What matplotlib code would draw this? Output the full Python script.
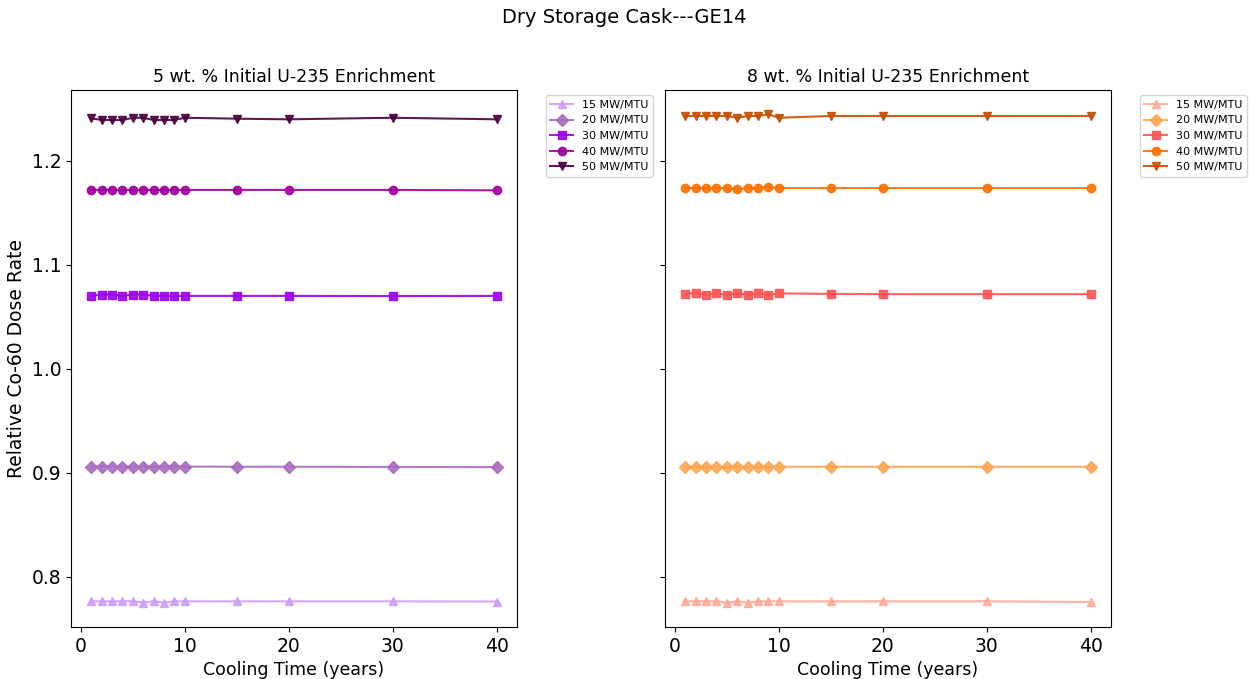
import matplotlib.pyplot as plt

# cooling time (years)
years = [1, 2, 3, 4, 5, 6, 7, 8, 9, 10, 15, 20, 30, 40]
burnups = ['15 MW/MTU', '20 MW/MTU', '30 MW/MTU', '40 MW/MTU', '50 MW/MTU']

# 5 wt.% enrichment
e5_15 = [0.7764, 0.7764, 0.7764, 0.7764, 0.7764, 0.7752, 0.7764, 0.7752, 0.7764, 0.7764, 0.7764, 0.7764, 0.7764, 0.7762]
e5_20 = [0.9060, 0.9060, 0.9060, 0.9060, 0.9060, 0.9060, 0.9060, 0.9060, 0.9060, 0.9060, 0.9058, 0.9058, 0.9056, 0.9055]
e5_30 = [1.0701, 1.0714, 1.0714, 1.0701, 1.0714, 1.0714, 1.0701, 1.0701, 1.0701, 1.0701, 1.0701, 1.0701, 1.0699, 1.0701]
e5_40 = [1.1720, 1.1720, 1.1720, 1.1720, 1.1720, 1.1720, 1.1720, 1.1720, 1.1720, 1.1720, 1.1720, 1.1720, 1.1720, 1.1716]
e5_50 = [1.2409, 1.2392, 1.2392, 1.2392, 1.2414, 1.2414, 1.2392, 1.2392, 1.2392, 1.2414, 1.2405, 1.2399, 1.2414, 1.2399]

# 8 wt.% enrichment
e8_15 = [0.7764, 0.7764, 0.7764, 0.7764, 0.7752, 0.7764, 0.7752, 0.7764, 0.7764, 0.7764, 0.7764, 0.7764, 0.7764, 0.7758]
e8_20 = [0.9058, 0.9058, 0.9055, 0.9058, 0.9055, 0.9058, 0.9055, 0.9058, 0.9058, 0.9058, 0.9058, 0.9058, 0.9058, 0.9058]
e8_30 = [1.0718, 1.0731, 1.0712, 1.0725, 1.0712, 1.0725, 1.0712, 1.0725, 1.0712, 1.0725, 1.0720, 1.0718, 1.0718, 1.0718]
e8_40 = [1.1738, 1.1738, 1.1738, 1.1738, 1.1738, 1.1725, 1.1738, 1.1738, 1.1751, 1.1738, 1.1738, 1.1738, 1.1738, 1.1738]
e8_50 = [1.2431, 1.2431, 1.2431, 1.2431, 1.2431, 1.2414, 1.2431, 1.2431, 1.2447, 1.2414, 1.2431, 1.2431, 1.2431, 1.2431]

markers = ['^', 'D', 's', 'o', 'v']
purples = ['#cf9dfa', '#a86cc0', '#9b00ee', '#a0009c', '#4a0042']
oranges = ['#ffaa96', '#ffa552', '#ff5252', '#ff7000', '#c44e00']

fig = plt.figure(figsize=(12.49, 6.79), dpi=100)
ax1 = fig.add_axes([0.0568, 0.0766, 0.357, 0.791])
ax2 = fig.add_axes([0.5324, 0.0766, 0.357, 0.791], sharey=ax1)

panels = [
    (ax1, [e5_15, e5_20, e5_30, e5_40, e5_50], purples, '5 wt. % Initial U-235 Enrichment'),
    (ax2, [e8_15, e8_20, e8_30, e8_40, e8_50], oranges, '8 wt. % Initial U-235 Enrichment'),
]

for ax, series, colors, title in panels:
    for vals, lab, mk, c in zip(series, burnups, markers, colors):
        ax.plot(years, vals, marker=mk, color=c, label=lab, markersize=6, alpha=0.9)
    ax.set_title(title, fontsize=12.5)
    ax.set_xlabel('Cooling Time (years)', fontsize=12.5)
    ax.tick_params(labelsize=13.5)
    ax.set_xticks([0, 10, 20, 30, 40])
    ax.legend(loc='upper left', bbox_to_anchor=(1.053, 1.0), fontsize=8)

ax1.set_ylabel('Relative Co-60 Dose Rate', fontsize=13.5)
ax1.set_yticks([0.8, 0.9, 1.0, 1.1, 1.2])
plt.setp(ax2.get_yticklabels(), visible=False)

fig.suptitle('Dry Storage Cask---GE14', fontsize=14, y=0.988)

fig.savefig('out.png', dpi=100)
